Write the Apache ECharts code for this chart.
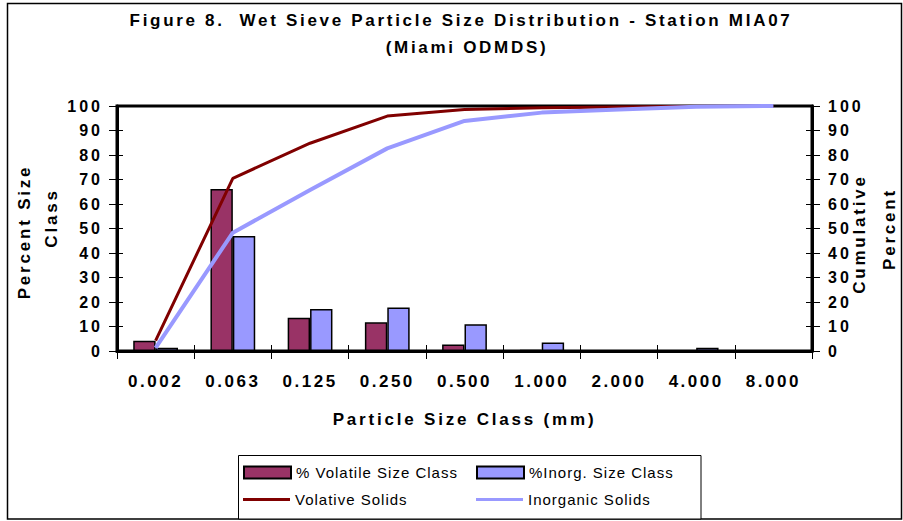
<!DOCTYPE html>
<html>
<head>
<meta charset="utf-8">
<script src="https://cdn.jsdelivr.net/npm/echarts@6/dist/echarts.min.js"></script>
<style>
html,body{margin:0;padding:0;background:#fff;}
#chart{width:903px;height:521px;}
</style>
</head>
<body>
<div id="chart"></div>
<script>
// ---- data ----
var categories = ['0.002','0.063','0.125','0.250','0.500','1.000','2.000','4.000','8.000'];
var volatilePct = [4.2, 66.1, 13.6, 11.7, 2.7, 0.5, 0.3, 0.3, 0];
var inorganicPct = [1.3, 46.9, 17.1, 17.8, 10.9, 3.5, 0.3, 1.3, 0];
var volatileCum = [4.2, 70.5, 84.8, 95.9, 98.6, 99.3, 99.6, 99.9, 100];
var inorganicCum = [1.3, 48.3, 65.7, 82.7, 93.9, 97.3, 98.6, 99.7, 100];
var yTicks = {min: 0, max: 100, interval: 10};

var FONT = 'Liberation Sans, Arial, sans-serif';
var chart = echarts.init(document.getElementById('chart'), null, {renderer: 'svg'});

function legendFor(name, left, top, isLine) {
  return {
    data: [name], left: left, top: top, padding: 0,
    itemWidth: 47, itemHeight: isLine ? 3 : 12,
    icon: 'rect',
    selectedMode: false,
    textStyle: {fontFamily: FONT, fontSize: 15, color: '#000'}
  };
}

function yAxisDef(pos, inside) {
  return {
    type: 'value', min: yTicks.min, max: yTicks.max, interval: yTicks.interval, position: pos,
    axisLine: {show: !inside, lineStyle: {color: '#000', width: 3}},
    axisTick: {show: true, inside: inside, length: inside ? 6 : 8, lineStyle: {color: '#000', width: 1}},
    axisLabel: inside ? {show: false} :
      {margin: pos === 'left' ? 14 : 16, color: '#000', fontFamily: FONT, fontWeight: 'bold', fontSize: 16},
    splitLine: {show: false}
  };
}

var option = {
  animation: false,
  backgroundColor: '#fff',
  grid: {left: 117, right: 91, top: 106, bottom: 170, show: true, borderColor: '#000', borderWidth: 3, containLabel: false},
  legend: [
    legendFor('% Volatile Size Class', 243, 465, false),
    legendFor('%Inorg. Size Class', 476, 465, false),
    legendFor('Volative Solids', 243, 492, true),
    legendFor('Inorganic Solids', 476, 492, true)
  ],
  xAxis: [{
    type: 'category', data: categories, position: 'bottom',
    axisLine: {lineStyle: {color: '#000', width: 3}},
    axisTick: {show: true, length: 8, lineStyle: {color: '#000', width: 1}},
    axisLabel: {interval: 0, margin: 22, color: '#000', fontFamily: FONT, fontWeight: 'bold', fontSize: 17},
    name: 'Particle Size Class (mm)', nameLocation: 'middle', nameGap: 60,
    nameTextStyle: {color: '#000', fontFamily: FONT, fontWeight: 'bold', fontSize: 17}
  }, {
    type: 'category', data: categories, position: 'bottom', offset: 0,
    axisLine: {show: false},
    axisTick: {show: true, inside: true, length: 6, lineStyle: {color: '#000', width: 1}},
    axisLabel: {show: false}
  }],
  yAxis: [yAxisDef('left', false), yAxisDef('right', false), yAxisDef('left', true), yAxisDef('right', true)],
  series: [
    {name: '% Volatile Size Class', type: 'bar', data: volatilePct, yAxisIndex: 0,
     barGap: '0%', barCategoryGap: '42%',
     itemStyle: {color: '#993366', borderColor: '#000', borderWidth: 1.5}},
    {name: '%Inorg. Size Class', type: 'bar', data: inorganicPct, yAxisIndex: 0,
     barGap: '0%', barCategoryGap: '42%',
     itemStyle: {color: '#9999FF', borderColor: '#000', borderWidth: 1.5}},
    {name: 'Volative Solids', type: 'line', data: volatileCum, yAxisIndex: 1,
     symbol: 'none', lineStyle: {color: '#800000', width: 3}, itemStyle: {color: '#800000'}, z: 3},
    {name: 'Inorganic Solids', type: 'line', data: inorganicCum, yAxisIndex: 1,
     symbol: 'none', lineStyle: {color: '#9999FF', width: 4}, itemStyle: {color: '#9999FF'}, z: 4}
  ],
  graphic: [
    {type: 'rect', z: -10, silent: true, shape: {x: 7.5, y: 3.5, width: 894, height: 515.5},
     style: {fill: 'none', stroke: '#000', lineWidth: 1.5}},
    {type: 'rect', z: -5, silent: true, shape: {x: 238.5, y: 455.5, width: 462.5, height: 63.5},
     style: {fill: '#fff', stroke: '#000', lineWidth: 1}},
    {type: 'text', x: 461, y: 20, silent: true,
     style: {text: 'Figure 8.  Wet Sieve Particle Size Distribution - Station MIA07', textAlign: 'center', textVerticalAlign: 'middle',
             font: 'bold 17px ' + FONT, fill: '#000'}},
    {type: 'text', x: 467, y: 47, silent: true,
     style: {text: '(Miami ODMDS)', textAlign: 'center', textVerticalAlign: 'middle',
             font: 'bold 17px ' + FONT, fill: '#000'}},
    {type: 'text', x: 24, y: 232, rotation: Math.PI / 2, silent: true,
     style: {text: 'Percent Size', textAlign: 'center', textVerticalAlign: 'middle', font: 'bold 17px ' + FONT, fill: '#000'}},
    {type: 'text', x: 51, y: 218, rotation: Math.PI / 2, silent: true,
     style: {text: 'Class', textAlign: 'center', textVerticalAlign: 'middle', font: 'bold 17px ' + FONT, fill: '#000'}},
    {type: 'text', x: 859, y: 234, rotation: Math.PI / 2, silent: true,
     style: {text: 'Cumulative', textAlign: 'center', textVerticalAlign: 'middle', font: 'bold 17px ' + FONT, fill: '#000'}},
    {type: 'text', x: 889, y: 229, rotation: Math.PI / 2, silent: true,
     style: {text: 'Percent', textAlign: 'center', textVerticalAlign: 'middle', font: 'bold 17px ' + FONT, fill: '#000'}}
  ]
};
chart.setOption(option);

function applySpacing() {
  var texts = document.querySelectorAll('#chart svg text');
  texts.forEach(function (t) {
    var s = (t.textContent || '').trim();
    var ls;
    if (s.indexOf('Figure') === 0 || s.indexOf('(Miami') === 0) ls = 2.7;
    else if (categories.indexOf(s) >= 0) ls = 2.5;
    else if (/^\d+$/.test(s)) ls = 3;
    else if (s === 'Particle Size Class (mm)' || s === 'Percent Size' || s === 'Class' || s === 'Cumulative' || s === 'Percent') ls = 2.8;
    else ls = 1;
    t.setAttribute('letter-spacing', ls);
  });
}
chart.on('finished', applySpacing);
applySpacing();
setTimeout(applySpacing, 50);
</script>
</body>
</html>
